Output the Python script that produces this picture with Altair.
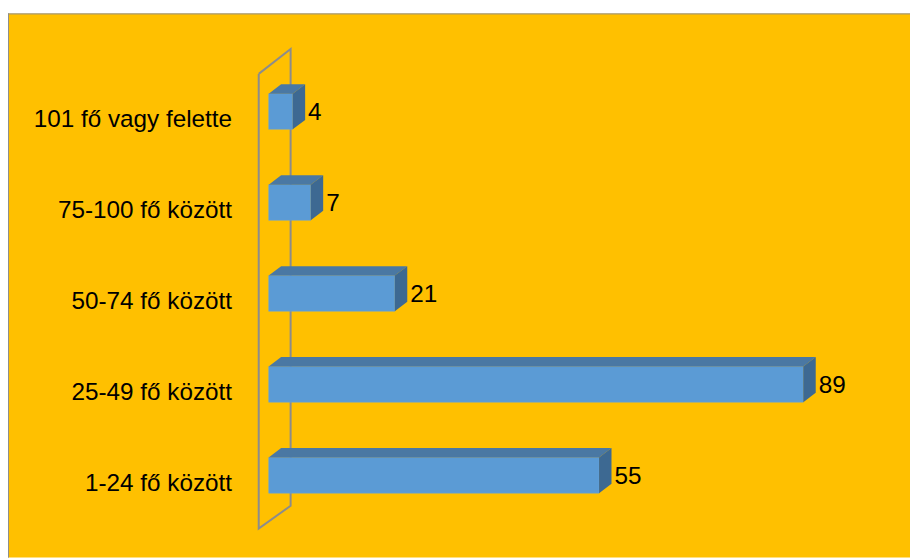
import altair as alt
import pandas as pd

categories = ["101 fő vagy felette", "75-100 fő között", "50-74 fő között", "25-49 fő között", "1-24 fő között"]
values = [4, 7, 21, 89, 55]

# 3D geometry (in data units)
HALF = 0.196   # half bar thickness (category-index units)
DX = 2.07      # depth offset along value axis
DY = 0.104     # depth offset along category axis
WALL_X = [-1.66, 3.65]
WALL_Y_TOP = [-0.414, -0.687]
WALL_Y_BOT = [4.585, 4.335]

FRONT = "#5B9BD5"
TOP = "#4A78A3"
SIDE = "#3D6992"
WALL = "#8C8C8C"
FONT = "Liberation Sans"

front_rows, top_rows, side_rows, lab_rows = [], [], [], []
for i, (c, v) in enumerate(zip(categories, values)):
    front_rows.append({"cat": c, "x": 0, "x2": v, "y": i - HALF, "y2": i + HALF})
    top_rows.append({"cat": c, "y": i - HALF, "xa": 0, "xb": v})
    top_rows.append({"cat": c, "y": i - HALF - DY, "xa": DX, "xb": v + DX})
    side_rows.append({"cat": c, "x": v, "ya": i - HALF, "yb": i + HALF})
    side_rows.append({"cat": c, "x": v + DX, "ya": i - HALF - DY, "yb": i + HALF - DY})
    lab_rows.append({"cat": c, "val": v, "idx": i, "vx": v + DX, "txt": str(v)})

front_df = pd.DataFrame(front_rows)
top_df = pd.DataFrame(top_rows)
side_df = pd.DataFrame(side_rows)
lab_df = pd.DataFrame(lab_rows)
wall_df = pd.DataFrame({
    "x": [WALL_X[0], WALL_X[1], WALL_X[1], WALL_X[0], WALL_X[0]],
    "y": [WALL_Y_TOP[0], WALL_Y_TOP[1], WALL_Y_BOT[1], WALL_Y_BOT[0], WALL_Y_TOP[0]],
    "o": [0, 1, 2, 3, 4],
})

W, H = 910, 549
xs = alt.Scale(domain=[0, 100], range=[263, 869], zero=False, nice=False)
ys = alt.Scale(domain=[0, 4], range=[99, 466], zero=False, nice=False)

wall = alt.Chart(wall_df).mark_line(color=WALL, strokeWidth=2).encode(
    x=alt.X("x:Q", scale=xs, axis=None),
    y=alt.Y("y:Q", scale=ys, axis=None),
    order="o:Q",
)

front = alt.Chart(front_df).mark_rect(color=FRONT, stroke="#6AA6DC", strokeWidth=0.5).encode(
    x=alt.X("x:Q", scale=xs, axis=None), x2="x2:Q",
    y=alt.Y("y:Q", scale=ys, axis=None), y2="y2:Q",
)

top = alt.Chart(top_df).mark_area(orient="horizontal", color=TOP).encode(
    y=alt.Y("y:Q", scale=ys, axis=None),
    x=alt.X("xa:Q", scale=xs, axis=None), x2="xb:Q",
    detail="cat:N",
)

side = alt.Chart(side_df).mark_area(orient="vertical", color=SIDE).encode(
    x=alt.X("x:Q", scale=xs, axis=None),
    y=alt.Y("ya:Q", scale=ys, axis=None), y2="yb:Q",
    detail="cat:N",
)

cat_labels = alt.Chart(lab_df).mark_text(
    align="right", baseline="middle", font=FONT, fontSize=24.5, color="#000000", dy=9
).encode(
    x=alt.value(226),
    y=alt.Y("idx:Q", scale=ys, axis=None),
    text="cat:N",
)

val_labels = alt.Chart(lab_df).mark_text(
    align="left", baseline="middle", font=FONT, fontSize=24.5, color="#000000", dx=3, dy=2
).encode(
    x=alt.X("vx:Q", scale=xs, axis=None),
    y=alt.Y("idx:Q", scale=ys, axis=None),
    text="txt:N",
)

border_df = pd.DataFrame({"a": [0]})
left_border = alt.Chart(border_df).mark_rule(color="#8E8E8E", strokeWidth=1).encode(
    x=alt.value(0.5), y=alt.value(0), y2=alt.value(H)
)
top_border = alt.Chart(border_df).mark_rule(color="#8E8E8E", strokeWidth=1).encode(
    x=alt.value(0), x2=alt.value(W), y=alt.value(0.5)
)

chart = alt.layer(
    wall, front, top, side, cat_labels, val_labels, left_border, top_border
).properties(
    width=W, height=H,
    autosize=alt.AutoSizeParams(type="none"),
    padding={"left": 0, "top": 3, "right": 0, "bottom": 0},
    background="#FFFFFF",
).configure_view(fill="#FFC000", stroke=None)

chart.save("out.html", embed_options={"renderer": "svg", "actions": False})
